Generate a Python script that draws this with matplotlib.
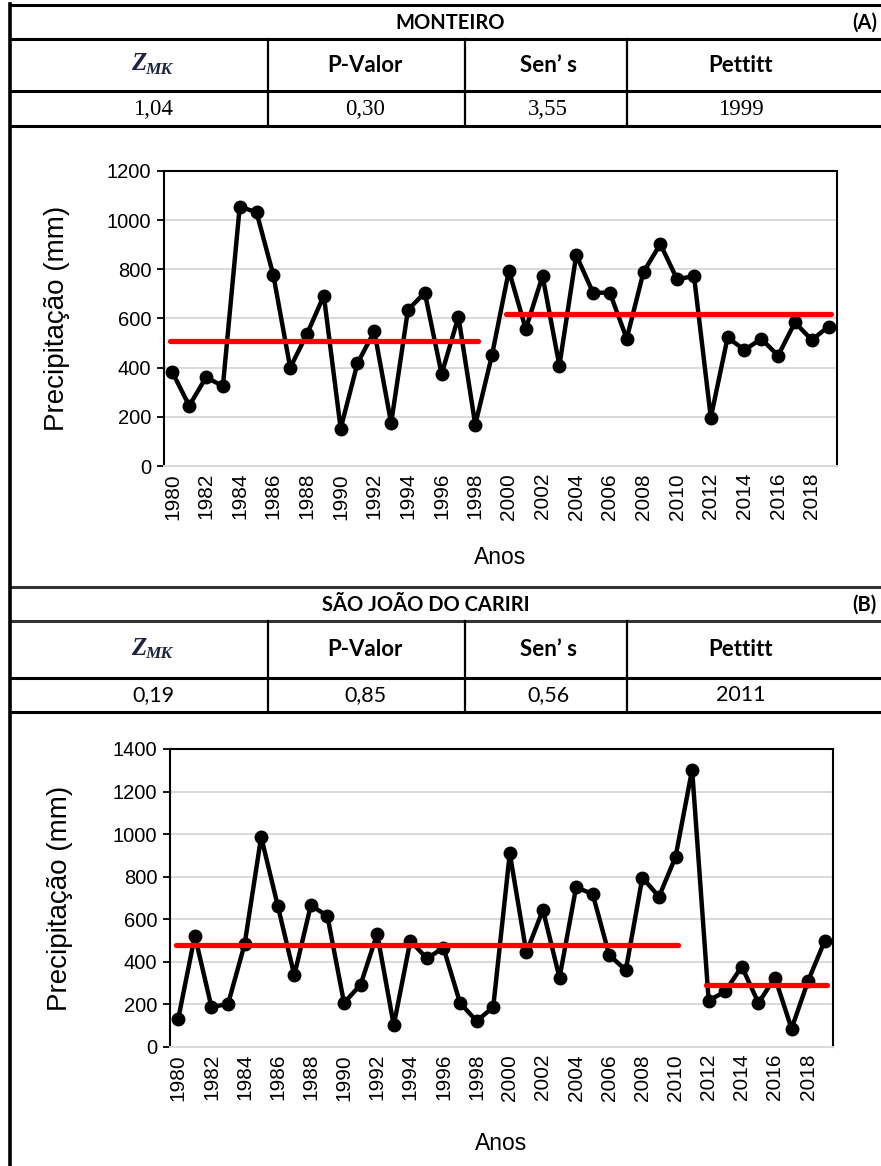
import matplotlib.pyplot as plt
from matplotlib.lines import Line2D

# Precipitação anual (mm) por posto
anos = list(range(1980, 2020))
monteiro = [381, 245, 361, 325, 1055, 1032, 776, 400, 537, 693,
            152, 418, 548, 174, 635, 705, 374, 607, 168, 453,
            795, 557, 773, 408, 858, 705, 705, 518, 789, 903,
            759, 773, 197, 523, 472, 517, 449, 584, 513, 567]
sao_joao = [133, 523, 188, 202, 482, 987, 664, 337, 667, 614,
            207, 293, 532, 102, 499, 416, 466, 207, 122, 187,
            910, 444, 644, 325, 750, 719, 432, 361, 796, 706,
            893, 1303, 217, 262, 378, 207, 326, 86, 311, 498]

# Médias antes/depois da ruptura de Pettitt: (ano inicial, ano final, média)
medias_monteiro = [(1980, 1998, 507), (2000, 2019, 618)]
medias_sao_joao = [(1980, 2010, 479), (2012, 2019, 289)]

# Resultados dos testes
cabecalho = ["P-Valor", "Sen\u2019 s", "Pettitt"]
testes_monteiro = ["1,04", "0,30", "3,55", "1999"]
testes_sao_joao = ["0,19", "0,85", "0,56", "2011"]

W, H = 881, 1166
fig = plt.figure(figsize=(W / 100, H / 100), dpi=100)

# camada de fundo em pixels para a tabela
bg = fig.add_axes([0, 0, 1, 1])
bg.set_xlim(0, W)
bg.set_ylim(H, 0)
bg.axis("off")

cab_font = "Lato"
col_x = [153, 365, 548, 741]


def linha(x0, x1, y0, y1, lw=2.0, cor="black"):
    bg.add_line(Line2D([x0, x1], [y0, y1], color=cor, lw=lw))


def tabela(y_top, y1, y2, y_bot, titulo, titulo_x, letra, valores, fonte_val, cor_topo):
    linha(10, W, y_top, y_top, lw=2.2, cor=cor_topo)
    linha(10, W, y1, y1, lw=2.2, cor=cor_topo)
    linha(10, W, y2, y2, lw=2.2)
    linha(10, W, y_bot, y_bot, lw=2.2)
    for xv in [268, 465, 627]:
        linha(xv, xv, y1, y_bot, lw=1.6)
    bg.text(titulo_x, (y_top + y1) / 2 + 1, titulo, ha="center", va="center",
            fontsize=14.5, fontweight="bold", family=cab_font)
    bg.text(852, (y_top + y1) / 2 + 1, letra, ha="left", va="center",
            fontsize=14.5, fontweight="bold", family=cab_font)
    ym = (y1 + y2) / 2
    bg.text(146, ym - 1, "Z", ha="right", va="center", fontsize=18,
            fontweight="bold", style="italic", family="Liberation Serif", color="#1b2440")
    bg.text(145, ym + 5, "MK", ha="left", va="center", fontsize=12.5,
            fontweight="bold", style="italic", family="Liberation Serif", color="#1b2440")
    for xc, t in zip(col_x[1:], cabecalho):
        bg.text(xc, ym, t, ha="center", va="center", fontsize=16,
                fontweight="bold", family=cab_font)
    yv = (y2 + y_bot) / 2
    for xc, t in zip(col_x, valores):
        if fonte_val == "serif":
            bg.text(xc, yv + 1, t, ha="center", va="center", fontsize=16.5,
                    family="Liberation Serif")
        else:
            bg.text(xc, yv, t, ha="center", va="center", fontsize=15.5,
                    family=cab_font)


tabela(5, 39, 91, 126, "MONTEIRO", 450, "(A)", testes_monteiro, "serif", "black")
tabela(587, 621, 678, 712, "S\u00c3O JO\u00c3O DO CARIRI", 426, "(B)", testes_sao_joao, "sans", "#333333")
linha(10, 10, 4, H, lw=2.6)


def grafico(rect_px, valores, medias, ymax, ylab_x, xlab_y):
    l, r, t, b = rect_px
    ax = fig.add_axes([l / W, 1 - b / H, (r - l) / W, (b - t) / H])
    ax.plot(anos, valores, color="black", lw=3.2, marker="o", markersize=9, zorder=3)
    for a0, a1, m in medias:
        ax.plot([a0 - 0.15, a1 + 0.15], [m, m], color="#ff0000", lw=3.8,
                solid_capstyle="round", zorder=4)
    ax.set_xlim(1979.5, 2019.5)
    ax.set_ylim(0, ymax)
    ax.set_yticks(range(0, ymax + 1, 200))
    ax.set_xticks(anos[::2])
    ax.set_xticklabels([str(a) for a in anos[::2]], rotation=90,
                       family="Liberation Sans", fontsize=15)
    for lab in ax.get_yticklabels():
        lab.set_family("Liberation Sans")
        lab.set_fontsize(14.5)
    ax.tick_params(axis="x", length=0, pad=5)
    ax.tick_params(axis="y", length=5, width=1.3, pad=4, direction="out")
    ax.grid(True, axis="y", color="#d9d9d9", lw=1.4)
    ax.set_axisbelow(True)
    for s in ["top", "right", "left"]:
        ax.spines[s].set_color("black")
        ax.spines[s].set_linewidth(1.5)
    ax.spines["bottom"].set_color("#d9d9d9")
    ax.spines["bottom"].set_linewidth(1.4)
    ax.set_ylabel("Precipita\u00e7\u00e3o (mm)", family="Liberation Sans", fontsize=20)
    ax.set_xlabel("Anos", family="Liberation Sans", fontsize=16.5)
    ax.yaxis.set_label_coords((ylab_x - l) / (r - l), 0.5)
    ax.xaxis.set_label_coords(0.5, (b - xlab_y) / (b - t))
    return ax


grafico((164, 837, 171, 466), monteiro, medias_monteiro, 1200, 70, 546)
grafico((170, 833, 749, 1047), sao_joao, medias_sao_joao, 1400, 73, 1132)

fig.savefig("out.png", dpi=100)
